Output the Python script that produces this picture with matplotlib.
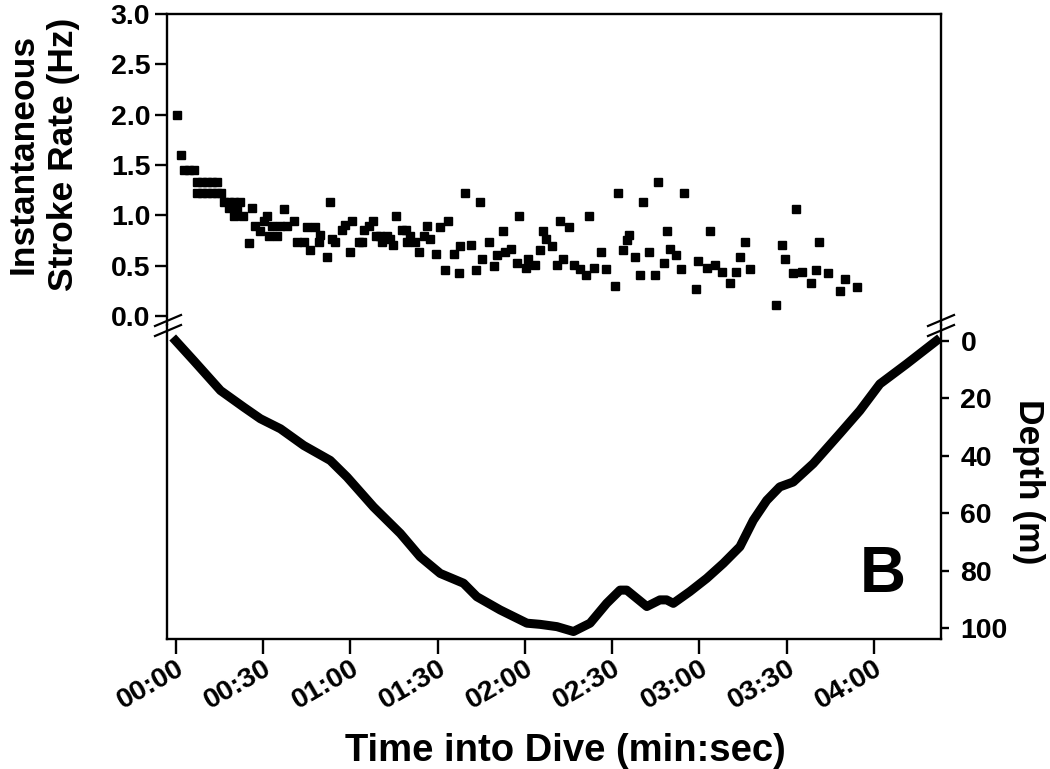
import matplotlib
matplotlib.use("Agg")
import matplotlib.pyplot as plt
from matplotlib.lines import Line2D

plt.rcParams['font.family'] = ['Liberation Sans', 'DejaVu Sans']
plt.rcParams['font.weight'] = 'bold'

# ---- data ----
stroke_t = [0.5, 1.9, 2.8, 4.5, 6.2, 7.4, 9.1, 10.8, 12.5, 14.2, 7.4, 9.1, 10.8, 12.5, 14.2, 15.4,
            16.5, 18.2, 19.9, 22.2, 18.2, 21.1, 26.3, 19.9, 23.2, 25.1, 27.4, 29.1, 31.2, 30.2,
            32.0, 33.1, 34.8, 36.0, 37.1, 38.3, 40.5, 41.7, 44.0, 45.1, 48.0, 46.0, 49.7, 49.1,
            52.0, 52.9, 53.7, 54.9, 57.2, 58.3, 60.6, 59.8, 62.9, 64.0, 64.6, 66.3, 67.8,
            68.9, 70.3, 70.9, 72.6, 73.7, 74.7, 75.6, 77.8, 79.2, 79.5, 80.6, 82.3, 83.5,
            85.2, 86.3, 87.5, 89.5, 90.7, 93.4, 92.6, 95.5, 97.2, 97.8, 101.4, 99.5,
            103.3, 104.4, 105.4, 107.5, 109.4, 110.4, 112.4, 113.2, 115.3, 117.2, 118.1, 120.3,
            121.2, 123.3, 125.2, 126.2, 127.3, 129.2, 131.0, 133.0, 132.1, 135.2, 137.0, 139.0,
            141.0, 141.9, 143.9, 146.1, 147.9, 150.9, 151.9, 153.8, 155.0, 155.9, 157.8, 159.7,
            160.7, 162.8, 164.8, 165.7, 167.8, 168.8, 169.9, 171.8, 173.7, 174.8, 178.7, 179.6,
            182.6, 183.6, 185.5, 187.6, 190.5, 192.4, 193.9, 195.6, 197.4, 206.2, 208.3, 209.3,
            212.2, 213.2, 215.4, 218.3, 220.2, 221.0, 224.0, 228.2, 230.0, 234.2]
stroke_hz = [2.0, 1.6, 1.45, 1.45, 1.45, 1.33, 1.33, 1.33, 1.33, 1.33, 1.22, 1.22, 1.22, 1.22, 1.22, 1.22,
             1.135, 1.135, 1.135, 1.135, 1.07, 1.07, 1.07, 0.99, 0.99, 0.72, 0.89, 0.84, 0.99, 0.94,
             0.79, 0.89, 0.79, 0.89, 1.06, 0.89, 0.94, 0.73, 0.73, 0.88, 0.88, 0.66, 0.80, 0.73,
             0.59, 1.135, 0.76, 0.73, 0.85, 0.90, 0.94, 0.64, 0.73, 0.73, 0.85, 0.89, 0.94,
             0.79, 0.79, 0.73, 0.79, 0.76, 0.70, 0.99, 0.85, 0.85, 0.73, 0.79, 0.73, 0.64,
             0.79, 0.89, 0.76, 0.62, 0.88, 0.94, 0.46, 0.62, 0.43, 0.69, 0.70, 1.22,
             0.46, 1.135, 0.57, 0.73, 0.50, 0.61, 0.84, 0.64, 0.67, 0.53, 0.99, 0.48,
             0.57, 0.51, 0.66, 0.84, 0.76, 0.69, 0.51, 0.57, 0.94, 0.88, 0.51, 0.47,
             0.41, 0.99, 0.48, 0.64, 0.47, 0.30, 1.22, 0.66, 0.75, 0.80, 0.59, 0.41,
             1.135, 0.64, 0.41, 1.33, 0.53, 0.84, 0.67, 0.61, 0.47, 1.22, 0.27, 0.55,
             0.48, 0.84, 0.51, 0.44, 0.33, 0.44, 0.59, 0.73, 0.47, 0.11, 0.70, 0.57,
             0.43, 1.06, 0.44, 0.33, 0.46, 0.73, 0.43, 0.25, 0.37, 0.29]

depth_t = [0, 6.2, 15.4, 23.4, 29.1, 36, 44, 53.1, 58.9, 68, 77.2, 84, 90.9, 98.9, 103.5, 111.5,
           120.7, 125.2, 131, 136.7, 142.4, 148.1, 152.7, 155, 161.9, 166.4, 168.7, 171, 176.7,
           182.5, 188.2, 193.9, 198.5, 203.1, 207.6, 212.2, 219.1, 228.2, 235.1, 242, 251.1, 261.4]
depth_m = [0, 6.9, 17.3, 23.1, 27.1, 30.6, 36.4, 41.6, 47.4, 57.8, 67, 75.1, 80.9, 84.3, 89, 93.6,
           98.2, 98.6, 99.4, 101.1, 98.2, 91.3, 86.7, 86.7, 92.4, 90.1, 90.1, 91.3, 87.2,
           82.6, 77.4, 71.6, 62.4, 55.5, 50.8, 49.1, 42.7, 32.3, 24.3, 15, 8.1, 0]

x_ticks = [0, 30, 60, 90, 120, 150, 180, 210, 240]
x_ticklabels = ["00:00", "00:30", "01:00", "01:30", "02:00", "02:30", "03:00", "03:30", "04:00"]
hz_ticks = [0.0, 0.5, 1.0, 1.5, 2.0, 2.5, 3.0]
depth_ticks = [0, 20, 40, 60, 80, 100]

# ---- layout ----
W, H = 1050, 769
fig = plt.figure(figsize=(W / 100, H / 100), dpi=100)
L, R = 167 / W, 941 / W
top_y0, top_y1 = 14, 325
bot_y0, bot_y1 = 325, 639
ax1 = fig.add_axes([L, 1 - top_y1 / H, R - L, (top_y1 - top_y0) / H])
ax2 = fig.add_axes([L, 1 - bot_y1 / H, R - L, (bot_y1 - bot_y0) / H], sharex=ax1)

lw_spine = 1.7
TICK_FS = 20.5
LAB_FS = 25.5

# top panel
ax1.plot(stroke_t, stroke_hz, linestyle='none', marker='s', markersize=5.3, color='black')
ax1.set_ylim(-0.09, 3.0)
ax1.set_yticks(hz_ticks)
ax1.set_yticklabels([f"{v:.1f}" for v in hz_ticks])
ax1.spines['bottom'].set_visible(False)
for s in ['top', 'left', 'right']:
    ax1.spines[s].set_linewidth(lw_spine)
ax1.tick_params(axis='y', direction='out', length=9, width=lw_spine, labelsize=TICK_FS, pad=3)
ax1.tick_params(axis='x', which='both', bottom=False, labelbottom=False)
ax1.set_ylabel("Instantaneous\nStroke Rate (Hz)", fontsize=LAB_FS, fontweight='bold',
               linespacing=1.3)
ax1.yaxis.set_label_coords(-0.112, 0.55)

# bottom panel
ax2.plot(depth_t, depth_m, color='black', linewidth=6.5, solid_joinstyle='round')
ax2.set_ylim(103.7, -5.5)
ax2.set_xlim(-3, 263)
ax2.spines['top'].set_visible(False)
for s in ['bottom', 'left', 'right']:
    ax2.spines[s].set_linewidth(lw_spine)
ax2.yaxis.tick_right()
ax2.yaxis.set_label_position('right')
ax2.set_yticks(depth_ticks)
ax2.tick_params(axis='y', direction='out', length=6, width=lw_spine, labelsize=TICK_FS, pad=8)
ax2.set_xticks(x_ticks)
ax2.set_xticklabels(x_ticklabels, rotation=30, ha='right', va='top', rotation_mode='anchor')
ax2.tick_params(axis='x', direction='out', length=11, width=lw_spine, labelsize=TICK_FS, pad=1)
ax2.set_ylabel("Depth (m)", fontsize=LAB_FS, fontweight='bold', rotation=270)
ax2.yaxis.set_label_coords(1.134, 0.5)
ax2.set_xlabel("Time into Dive (min:sec)", fontsize=LAB_FS + 2, fontweight='bold')
ax2.xaxis.set_label_coords(0.515, -0.30)
ax2.text(0.925, 0.205, "B", transform=ax2.transAxes, fontsize=46, fontweight='bold',
         ha='center', va='center')

# axis break marks
def px(x, y):
    return x / W, 1 - y / H

for xc in (168, 941):
    for yc in (320.5, 330.5):
        (xa, ya), (xb, yb) = px(xc - 13, yc + 5.5), px(xc + 13, yc - 5.5)
        fig.add_artist(Line2D([xa, xb], [ya, yb], color='black', linewidth=1.6))

fig.savefig("out.png", dpi=100)
